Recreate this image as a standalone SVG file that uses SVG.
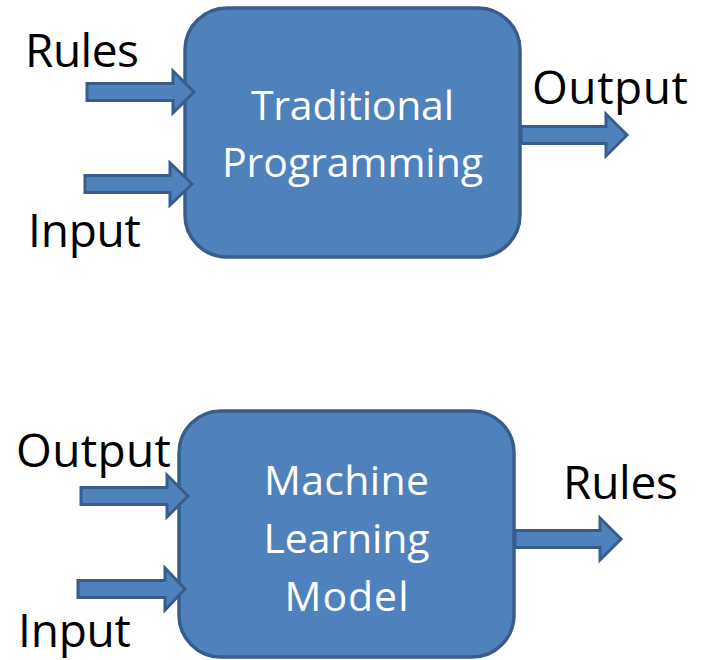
<svg xmlns="http://www.w3.org/2000/svg" width="704" height="660" viewBox="0 0 704 660">
  <style>
    .box { fill: #4f81bd; stroke: #385d8a; stroke-width: 3.5; }
    .arrow { fill: #4f81bd; stroke: #385d8a; stroke-width: 3; stroke-linejoin: miter; }
    .inner { font-family: "Open Sans", "Liberation Sans", sans-serif; font-size: 41px; fill: #ffffff; text-anchor: middle; }
    .label { font-family: "Open Sans", "Liberation Sans", sans-serif; font-size: 46px; fill: #000000; }
  </style>
  <rect width="704" height="660" fill="#ffffff"/>

  <!-- process boxes -->
  <g id="traditional-programming">
    <rect class="box" x="185" y="8" width="335" height="249" rx="42" ry="42"/>
    <text class="inner" x="352.5" y="120" textLength="203">Traditional</text>
    <text class="inner" x="352.5" y="177" textLength="261">Programming</text>
  </g>
  <g id="machine-learning-model">
    <rect class="box" x="179" y="411" width="335" height="246" rx="42" ry="42"/>
    <text class="inner" x="346.5" y="495" textLength="165">Machine</text>
    <text class="inner" x="346.5" y="553" textLength="166">Learning</text>
    <text class="inner" x="346.5" y="611" textLength="124">Model</text>
  </g>

  <!-- block arrows feeding into and out of the boxes -->
  <g id="connectors">
    <polygon class="arrow" points="87,83.5 173,83.5 173,71 194,92 173,113 173,100.5 87,100.5"/>
    <polygon class="arrow" points="85,175.5 170,175.5 170,163 192,184 170,205 170,192.5 85,192.5"/>
    <polygon class="arrow" points="521,126.5 606,126.5 606,114 627,135 606,156 606,143.5 521,143.5"/>
    <polygon class="arrow" points="81,487.5 167,487.5 167,475 188,496 167,517 167,504.5 81,504.5"/>
    <polygon class="arrow" points="78,580.5 165,580.5 165,568 185,589 165,610 165,597.5 78,597.5"/>
    <polygon class="arrow" points="515,530.5 600,530.5 600,518 621,539 600,560 600,547.5 515,547.5"/>
  </g>

  <!-- arrow labels -->
  <g id="labels">
    <text class="label" x="25" y="67" textLength="114">Rules</text>
    <text class="label" x="28" y="247" textLength="113">Input</text>
    <text class="label" x="532" y="104" textLength="156">Output</text>
    <text class="label" x="16" y="467" textLength="155">Output</text>
    <text class="label" x="18" y="647" textLength="113">Input</text>
    <text class="label" x="563" y="499" textLength="115">Rules</text>
  </g>
</svg>
